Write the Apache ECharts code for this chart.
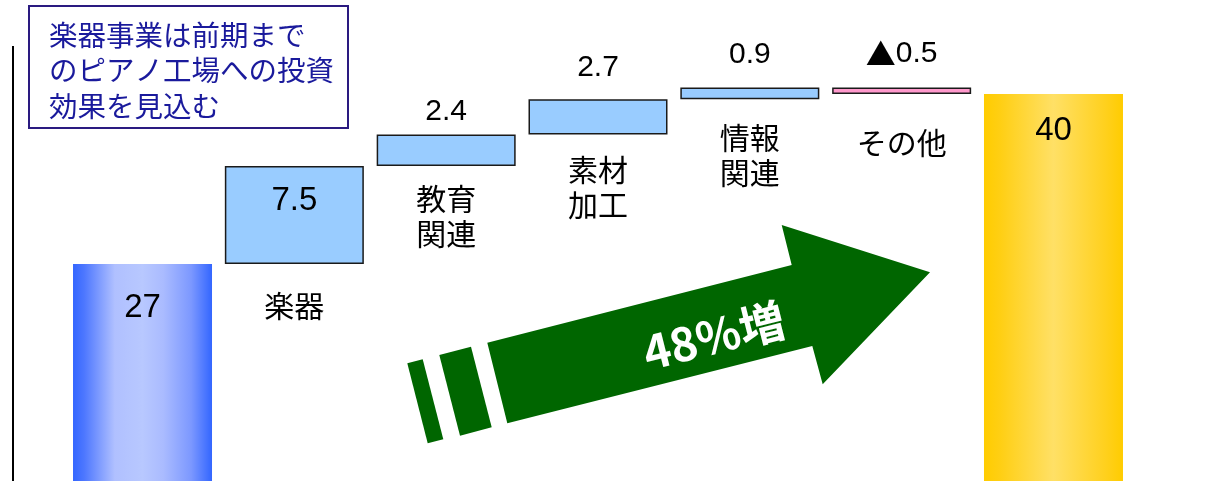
<!DOCTYPE html>
<html>
<head>
<meta charset="utf-8">
<script src="https://cdn.jsdelivr.net/npm/echarts@6/dist/echarts.min.js"></script>
<style>
  html, body { margin: 0; padding: 0; background: #ffffff; }
  #chart { width: 1227px; height: 481px; }
</style>
</head>
<body>
<div id="chart"></div>
<script>
// 売上高の増減（億円）: 前期 → 各事業の増減 → 今期
const categories = ['前期', '楽器', '教育\n関連', '素材\n加工', '情報\n関連', 'その他', '今期'];
const changes = [27, 7.5, 2.4, 2.7, 0.9, -0.5, 40];
const valueLabels = ['27', '7.5', '2.4', '2.7', '0.9', '{tri|▲}0.5', '40'];
const noteLines = ['楽器事業は前期まで', 'のピアノ工場への投資', '効果を見込む'];
const growthText = '48%増';

// invisible base + visible step for each bar (waterfall)
const baseData = [];
const stepData = [];
let running = 0;
changes.forEach((v, i) => {
  if (i === 0 || i === changes.length - 1) {
    baseData.push(0);
    stepData.push(v);
    running = v;
  } else if (v >= 0) {
    baseData.push(running);
    stepData.push(v);
    running += v;
  } else {
    running += v;
    baseData.push(running);
    stepData.push(-v);
  }
});

const SANS = '"Liberation Sans", Arial, sans-serif';
const JP = '"Noto Sans CJK JP", sans-serif';

const blueGrad = new echarts.graphic.LinearGradient(0, 0, 1, 0, [
  { offset: 0, color: '#3366ff' },
  { offset: 0.08, color: '#4d77ff' },
  { offset: 0.3, color: '#b0c0ff' },
  { offset: 0.5, color: '#b8c8ff' },
  { offset: 0.65, color: '#aabbff' },
  { offset: 0.85, color: '#7c98ff' },
  { offset: 1, color: '#3366ff' }
]);
const goldGrad = new echarts.graphic.LinearGradient(0, 0, 1, 0, [
  { offset: 0, color: '#ffcc00' },
  { offset: 0.12, color: '#ffcf14' },
  { offset: 0.5, color: '#ffe066' },
  { offset: 0.88, color: '#ffd01c' },
  { offset: 1, color: '#ffcc00' }
]);

// per-bar label placement
const valueLabelPos = [
  { position: 'insideTop', distance: 27, fontSize: 33 },
  { position: 'insideTop', distance: 18, fontSize: 33 },
  { position: 'top', distance: 8, fontSize: 30 },
  { position: 'top', distance: 17, fontSize: 30 },
  { position: 'top', distance: 18, fontSize: 30 },
  { position: 'top', distance: 19, fontSize: 30 },
  { position: 'insideTop', distance: 20, fontSize: 33 }
];
const catLabelDist = [0, 24, 15, 18, 21, 31, 0];

const stepItems = stepData.map((v, i) => {
  let itemStyle;
  if (i === 0) itemStyle = { color: blueGrad, borderWidth: 0 };
  else if (i === changes.length - 1) itemStyle = { color: goldGrad, borderWidth: 0 };
  else if (changes[i] < 0) itemStyle = { color: '#ff99cc', borderColor: '#1a1a1a', borderWidth: 1.5 };
  else itemStyle = { color: '#99ccff', borderColor: '#1a1a1a', borderWidth: 1.5 };
  const lp = valueLabelPos[i];
  return {
    value: v,
    itemStyle,
    label: {
      show: true,
      position: lp.position,
      distance: lp.distance,
      fontFamily: SANS,
      fontSize: lp.fontSize,
      color: '#000',
      formatter: () => valueLabels[i],
      rich: {
        tri: { fontFamily: JP, fontSize: 30, color: '#000' }
      }
    }
  };
});

const baseItems = baseData.map((v, i) => ({
  value: v,
  label: {
    show: i > 0 && i < categories.length - 1,
    position: 'insideTop',
    distance: catLabelDist[i],
    fontFamily: JP,
    fontSize: 30,
    lineHeight: 35,
    color: '#000',
    formatter: () => categories[i]
  }
}));

const chart = echarts.init(document.getElementById('chart'), null, { renderer: 'canvas' });

// arrow outline (shaft + head) and the two trailing stripes
const GREEN = '#006600';
const arrowBody = [[487.3, 342.7], [791.7, 265], [781.7, 225], [930, 272.3], [822.7, 384.3], [812.3, 346], [507.3, 423.3]];
const stripe1 = [[407.3, 363.3], [422.7, 359.3], [443.3, 439.3], [427.7, 443.3]];
const stripe2 = [[439.3, 355], [471, 346.7], [491.7, 427.3], [460, 435.7]];

chart.setOption({
  animation: false,
  backgroundColor: '#ffffff',
  grid: { left: 66.6, right: 97.6, top: 0, bottom: 0 },
  xAxis: {
    type: 'category',
    data: categories,
    show: false
  },
  yAxis: {
    type: 'value',
    min: 10.41,
    max: 47.19,
    show: false
  },
  series: [
    {
      name: 'base',
      type: 'bar',
      stack: 'wf',
      barWidth: 139,
      clip: true,
      itemStyle: { color: 'transparent', borderWidth: 0 },
      emphasis: { disabled: true },
      data: baseItems,
      z: 2
    },
    {
      name: 'step',
      type: 'bar',
      stack: 'wf',
      barWidth: 139,
      clip: true,
      emphasis: { disabled: true },
      data: stepItems,
      z: 3
    }
  ],
  graphic: [
    {
      type: 'line',
      shape: { x1: 13, y1: 46, x2: 13, y2: 481 },
      style: { stroke: '#000', lineWidth: 2 },
      z: 10
    },
    {
      type: 'rect',
      shape: { x: 29, y: 6, width: 319, height: 122 },
      style: { fill: '#ffffff', stroke: '#2a1a80', lineWidth: 2 },
      z: 10
    },
    {
      type: 'text',
      x: 49,
      y: 17,
      style: {
        text: noteLines.join('\n'),
        font: '28.5px "Noto Sans CJK JP", sans-serif',
        lineHeight: 35.5,
        fill: '#1a1a9c',
        verticalAlign: 'top',
        align: 'left'
      },
      z: 11
    },
    {
      type: 'polygon',
      shape: { points: arrowBody },
      style: { fill: GREEN },
      z: 10
    },
    {
      type: 'polygon',
      shape: { points: stripe1 },
      style: { fill: GREEN },
      z: 10
    },
    {
      type: 'polygon',
      shape: { points: stripe2 },
      style: { fill: GREEN },
      z: 10
    },
    {
      type: 'text',
      x: 714,
      y: 336,
      rotation: 14.2 * Math.PI / 180,
      style: {
        text: growthText,
        font: 'bold 46px "Noto Sans CJK JP", sans-serif',
        fill: '#ffffff',
        align: 'center',
        verticalAlign: 'middle'
      },
      z: 11
    }
  ]
});
</script>
</body>
</html>
